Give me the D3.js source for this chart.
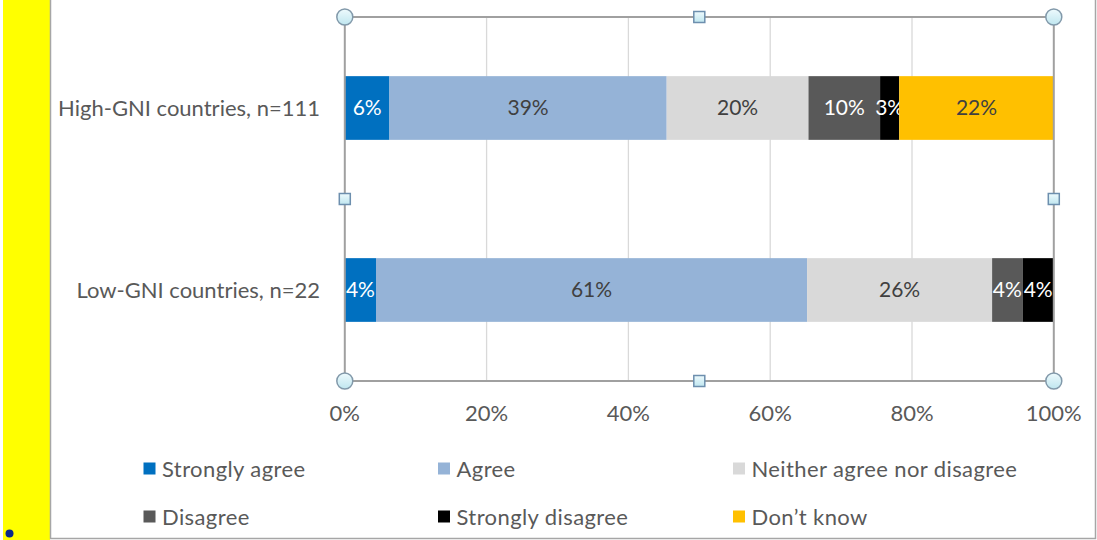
<!DOCTYPE html>
<html>
<head>
<meta charset="utf-8">
<script src="https://cdn.jsdelivr.net/npm/d3@7"></script>
<style>
  html, body { margin: 0; padding: 0; background: #ffffff; }
  svg { display: block; }
  text { font-family: Lato, "Open Sans", sans-serif; }
</style>
</head>
<body>
<svg id="chart" width="1097" height="540"></svg>
<script>
// ---- data ----
const categories = ["High-GNI countries, n=111", "Low-GNI countries, n=22"];
const seriesNames = ["Strongly agree", "Agree", "Neither agree nor disagree", "Disagree", "Strongly disagree", "Don\u2019t know"];
const stronglyAgree = [6.3, 4.4];
const agree = [39.1, 60.8];
const neither = [20.0, 26.1];
const disagree = [10.1, 4.3];
const stronglyDisagree = [2.7, 4.4];
const dontKnow = [21.8, 0];
const barLabels = [
  ["6%", "39%", "20%", "10%", "3%", "22%"],
  ["4%", "61%", "26%", "4%", "4%", ""]
];
const xTicks = [0, 20, 40, 60, 80, 100];
const xTickLabels = ["0%", "20%", "40%", "60%", "80%", "100%"];

const seriesValues = [stronglyAgree, agree, neither, disagree, stronglyDisagree, dontKnow];
const colors = ["#0070C0", "#95B3D7", "#D9D9D9", "#595959", "#000000", "#FFC000"];
const labelColors = ["#ffffff", "#404040", "#404040", "#ffffff", "#ffffff", "#404040"];

// ---- layout ----
const svg = d3.select("#chart");
const plot = { left: 344.8, right: 1053.8, top: 17, bottom: 381 };

// yellow strip + outer frame
svg.append("rect").attr("x", 3).attr("y", 0).attr("width", 47).attr("height", 540).attr("fill", "#FFFF00");
svg.append("circle").attr("cx", 9.5).attr("cy", 533.5).attr("r", 4).attr("fill", "#0a2a8a");
svg.append("path")
  .attr("d", "M50.5,-1 V538.5 H1095.5 V-1")
  .attr("fill", "none").attr("stroke", "#a6a6a6").attr("stroke-width", 1.5);

const x = d3.scaleLinear().domain([0, 100]).range([plot.left, plot.right]);
const y = d3.scaleBand().domain(categories).range([plot.top, plot.bottom])
  .paddingInner(0.65).paddingOuter(0.325);

// gridlines
svg.append("g").selectAll("line").data(xTicks.slice(1, -1)).join("line")
  .attr("x1", d => x(d)).attr("x2", d => x(d))
  .attr("y1", plot.top).attr("y2", plot.bottom)
  .attr("stroke", "#d9d9d9").attr("stroke-width", 1.3);

// stacked bars
const stackData = categories.map((c, i) => {
  const o = { cat: c, idx: i };
  seriesNames.forEach((s, j) => { o[s] = seriesValues[j][i]; });
  return o;
});
const stack = d3.stack().keys(seriesNames)(stackData);

const gBars = svg.append("g");
stack.forEach((layer, j) => {
  gBars.selectAll(null).data(layer).join("rect")
    .attr("x", d => x(d[0]))
    .attr("y", d => y(d.data.cat))
    .attr("width", d => Math.max(0, x(d[1]) - x(d[0])))
    .attr("height", y.bandwidth())
    .attr("fill", colors[j]);
  gBars.selectAll(null).data(layer).join("text")
    .attr("x", d => (x(d[0]) + x(d[1])) / 2)
    .attr("y", d => y(d.data.cat) + y.bandwidth() / 2)
    .attr("dy", "0.35em")
    .attr("text-anchor", "middle")
    .attr("font-size", 21)
    .attr("fill", labelColors[j])
    .text(d => barLabels[d.data.idx][j]);
});

// plot frame (gray border)
svg.append("rect")
  .attr("x", plot.left).attr("y", plot.top)
  .attr("width", plot.right - plot.left).attr("height", plot.bottom - plot.top)
  .attr("fill", "none").attr("stroke", "#a0a0a0").attr("stroke-width", 2);

// category labels
svg.append("g").selectAll("text").data(categories).join("text")
  .attr("x", 320)
  .attr("y", d => y(d) + y.bandwidth() / 2)
  .attr("dy", "0.35em")
  .attr("text-anchor", "end")
  .attr("font-size", 22)
  .attr("fill", "#595959")
  .text(d => d);

// x tick labels
svg.append("g").selectAll("text").data(xTicks).join("text")
  .attr("x", d => x(d))
  .attr("y", 421)
  .attr("text-anchor", "middle")
  .attr("font-size", 22)
  .attr("fill", "#595959")
  .text((d, i) => xTickLabels[i]);

// selection handles
const defs = svg.append("defs");
const grad = defs.append("linearGradient").attr("id", "hg").attr("x1", 0).attr("y1", 0).attr("x2", 0).attr("y2", 1);
grad.append("stop").attr("offset", "0%").attr("stop-color", "#eefafd");
grad.append("stop").attr("offset", "100%").attr("stop-color", "#bfe6ef");
const midX = (plot.left + plot.right) / 2, midY = (plot.top + plot.bottom) / 2;
const corners = [[plot.left, plot.top], [plot.right, plot.top], [plot.left, plot.bottom], [plot.right, plot.bottom]];
const mids = [[midX, plot.top], [midX, plot.bottom], [plot.left, midY], [plot.right, midY]];
svg.append("g").selectAll("circle").data(corners).join("circle")
  .attr("cx", d => d[0]).attr("cy", d => d[1]).attr("r", 8)
  .attr("fill", "url(#hg)").attr("stroke", "#8299aa").attr("stroke-width", 1.5);
svg.append("g").selectAll("rect").data(mids).join("rect")
  .attr("x", d => d[0] - 5.5).attr("y", d => d[1] - 5.5)
  .attr("width", 11).attr("height", 11)
  .attr("fill", "url(#hg)").attr("stroke", "#6d8fae").attr("stroke-width", 1.5);

// legend
const legendX = [143.5, 438, 733];
const legendY = [469, 517];
const gLeg = svg.append("g");
seriesNames.forEach((s, j) => {
  const col = j % 3, row = Math.floor(j / 3);
  gLeg.append("rect")
    .attr("x", legendX[col]).attr("y", legendY[row] - 6.5)
    .attr("width", 12).attr("height", 12)
    .attr("fill", colors[j]);
  gLeg.append("text")
    .attr("x", legendX[col] + 18.5).attr("y", legendY[row])
    .attr("dy", "0.35em")
    .attr("font-size", 22)
    .attr("letter-spacing", 0.4)
    .attr("fill", "#595959")
    .text(s);
});
</script>
</body>
</html>
